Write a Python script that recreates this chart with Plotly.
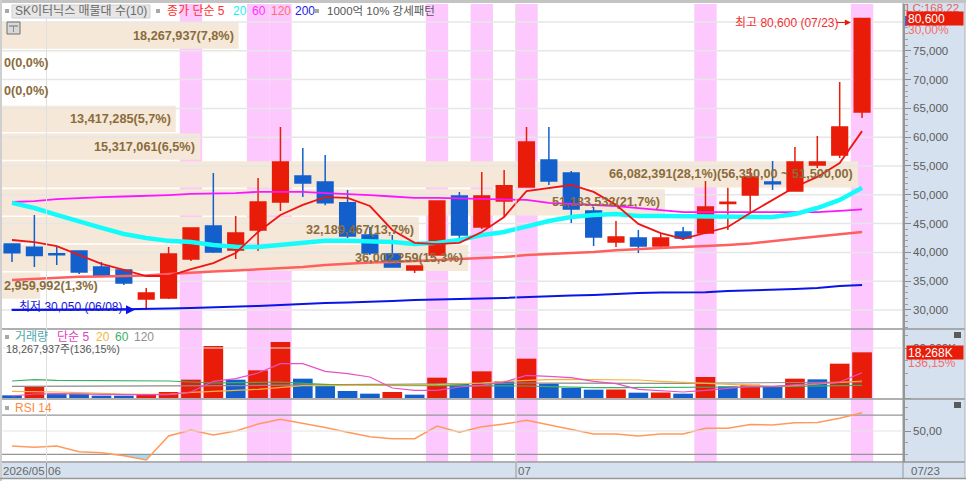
import plotly.graph_objects as go

W, H = 966, 481
FONT = "Liberation Sans, Noto Sans CJK KR, sans-serif"

RED = "#e81c08"
BLUE = "#1360cc"
PINK = "#fdc8fd"
PEACH = "#f5e8d8"
GRID = "#e6e6e6"
SEP = "#969696"
PANEL = "#d5e1ef"
TEXT = "#5c5c5c"

# daily candles, 2026/05 ~ 07/23
opens = [41450, 40900, 39750, 40250, 37450, 36950, 31900, 32100, 38850, 44600, 40400, 43900, 48750,
         53250, 52200, 48600, 43000, 39700, 36950, 39550, 49800, 44400, 48900, 51350, 56050, 53800,
         47200, 41800, 42500, 41100, 43550, 43350, 48500, 49950, 52200, 50650, 55150, 56900, 64350]
highs = [41450, 46500, 41100, 40250, 38350, 36950, 33800, 40950, 44250, 53800, 46300, 52900, 61750,
         58100, 56900, 50850, 44400, 43000, 37650, 48900, 50500, 53950, 54300, 61750, 61750, 54150,
         47900, 45450, 43900, 43350, 44400, 52400, 51200, 54650, 55850, 58300, 60200, 69600, 80600]
lows = [38350, 37450, 37800, 36250, 35750, 34350, 30050, 31900, 38500, 39900, 38850, 40250, 47200,
        49600, 48200, 42500, 39550, 37450, 36400, 39550, 41650, 44050, 46150, 51200, 51700, 45100,
        41100, 40950, 39900, 40950, 42150, 43200, 43900, 47000, 50850, 50650, 54650, 56400, 63350]
closes = [39950, 39450, 39600, 36600, 35900, 34700, 32950, 39700, 44250, 40050, 43350, 48750, 55700,
          52050, 48600, 42850, 39900, 37450, 37650, 48900, 43000, 49800, 51550, 59150, 52400, 47550,
          42650, 42650, 41100, 42500, 42500, 47900, 48700, 53100, 51900, 55700, 55700, 61750, 80600]

ma5 = [42150, 41800, 41100, 39550, 38000, 36950, 35900, 35900, 37100, 38150, 39900, 43550, 46500,
       48250, 49600, 49450, 48050, 43900, 41650, 41450, 41650, 43550, 46150, 50650, 51200, 51700,
       50500, 48250, 44950, 43350, 42350, 43350, 44400, 46850, 49100, 51350, 53100, 55500, 61050]
ma20 = [48600, 47700, 46500, 45300, 44250, 43200, 42500, 42000, 41800, 41300, 41000, 40950, 41300,
        41800, 42000, 42000, 41900, 41800, 41450, 41650, 42150, 43000, 43550, 44600, 45450, 46150,
        46500, 46650, 46300, 46300, 46300, 46250, 46150, 46150, 46150, 46650, 47700, 49100, 51200]
ma60 = [48750, 48900, 49250, 49450, 49600, 49700, 49800, 49950, 50150, 50200, 50300, 50500, 50500,
        50500, 50300, 50150, 49950, 49700, 49450, 49450, 49350, 49250, 49200, 49100, 48600, 48400,
        48250, 48050, 47700, 47350, 47000, 47000, 47000, 47000, 47000, 47000, 47000, 47200, 47450]
ma120 = [35200, 35400, 35550, 35750, 35800, 35900, 36000, 36250, 36500, 36700, 36850, 37050, 37200,
         37450, 37800, 38050, 38250, 38350, 38500, 38700, 38850, 39050, 39200, 39550, 39700, 39900,
         40050, 40350, 40600, 40750, 40950, 41100, 41300, 41550, 42000, 42350, 42750, 43100, 43550]
ma200 = [30000, 30000, 30000, 30000, 30100, 30150, 30150, 30250, 30350, 30450, 30500, 30700, 30850,
         31050, 31200, 31300, 31400, 31550, 31750, 31800, 31900, 32000, 32100, 32250, 32450, 32500,
         32600, 32800, 32950, 33050, 33100, 33100, 33300, 33400, 33450, 33650, 33800, 34150, 34350]

# volume in thousands of shares
volume = [1067, 4400, 1800, 1750, 950, 930, 1300, 2400, 7333, 20800, 7333, 11067, 22400,
          7733, 4800, 2800, 1733, 2400, 1333, 8133, 5733, 10667, 6667, 15733, 5733, 4000,
          3333, 3400, 2133, 2200, 1733, 8400, 4667, 5333, 4400, 7733, 7467, 13733, 18268]
vol_ma5 = [800, 1600, 1730, 1730, 1470, 1330, 1200, 1330, 2400, 6670, 7730, 10000, 13730,
           13730, 10670, 9730, 8400, 4000, 3070, 3070, 4400, 5070, 6400, 9070, 8670, 8130,
           6670, 5730, 3470, 2800, 2400, 3070, 3730, 4670, 4670, 5330, 5730, 6400, 10130]
vol_ma20 = [2670, 2670, 2400, 2130, 1730, 1600, 1470, 1470, 2270, 2800, 3070, 3470, 4270,
            4930, 4930, 4930, 4930, 5070, 5200, 5330, 5600, 6000, 6670, 7070, 7330, 7470,
            7470, 7470, 7200, 6670, 6270, 5870, 5330, 4800, 4670, 5070, 5600, 6000, 6800]
vol_ma60 = [6800, 7330, 7070, 7070, 6930, 6930, 6800, 6800, 6400, 6000, 6130, 6400, 6400,
            5870, 5470, 5070, 5070, 5070, 5070, 5070, 5070, 5070, 4930, 4800, 4530, 4270,
            4130, 4130, 4130, 4130, 4130, 4270, 4400, 4400, 4530, 4670, 4800, 4930, 5070]
vol_ma120 = [4670, 4670, 4670, 4670, 4670, 4670, 4670, 4670, 4730, 4800, 4930, 5070, 5200,
             5330, 5330, 5330, 5470, 5470, 5600, 5730, 5870, 5870, 6000, 6000, 5930, 5870,
             5870, 5800, 5730, 5730, 5870, 5930, 6000, 6000, 6130, 6130, 6130, 6270, 6400]

rsi = [37.1, 36.0, 37.1, 32.3, 31.4, 28.8, 25.1, 45.7, 50.9, 46.6, 50.0, 56.0, 60.0,
       56.6, 53.1, 48.9, 45.1, 43.4, 43.4, 54.3, 48.9, 53.7, 56.0, 59.2, 55.1, 50.9,
       47.4, 47.4, 45.7, 47.4, 47.4, 52.3, 52.3, 55.7, 55.1, 57.2, 57.4, 60.9, 65.7]
rsi_low, rsi_high = 30, 63.7

# volume by price, 10 buckets from the top
vp_mid = [77650, 72825, 68000, 63175, 58350, 53525, 48700, 43875, 39050, 34225]
vp_shares = [18267937, 0, 0, 13417285, 15317061, 66082391, 51183532, 32189467, 36002259, 2959992]
vp_labels = ["18,267,937(7,8%)", "0(0,0%)", "0(0,0%)", "13,417,285(5,7%)", "15,317,061(6,5%)",
             "66,082,391(28,1%)(56,350,00 ~ 51,500,00)", "51,183,532(21,7%)", "32,189,467(13,7%)",
             "36,002,259(15,3%)", "2,959,992(1,3%)"]

highlight_days = [8, 11, 12, 19, 21, 23, 31, 38]
price_ticks = list(range(30000, 80001, 5000))
days = list(range(len(closes)))


def px(x):
    return x / W


def py(y):
    return 1 - y / H


def note(x, y, text, color=TEXT, size=11, anchor="left", **kw):
    fig.add_annotation(x=px(x), y=py(y), xref="paper", yref="paper", text=text, showarrow=False, xshift=-2,
                       xanchor=anchor, yanchor="middle", font=dict(family=FONT, size=size, color=color), **kw)


fig = go.Figure()

# volume by price sits on the base axis so it stays under the candles
fig.add_trace(go.Bar(y=vp_mid, x=vp_shares, orientation="h", width=4560, marker=dict(color=PEACH, line_width=0),
                     xaxis="x", yaxis="y", showlegend=False))
grid_x, grid_y = [], []
for p in price_ticks:
    grid_x += [0, 70000000, None]
    grid_y += [p, p, None]
fig.add_trace(go.Scatter(x=grid_x, y=grid_y, mode="lines", line=dict(color=GRID, width=1.5), xaxis="x", yaxis="y",
                         showlegend=False))

for series, color, width in [(ma200, "#0a14e6", 2), (ma120, "#ff5f5f", 2.5), (ma60, "#ff14ff", 1.8),
                             (ma20, "#14fbfb", 4.5)]:
    fig.add_trace(go.Scatter(x=days, y=series, mode="lines", line=dict(color=color, width=width), xaxis="x2",
                             yaxis="y", showlegend=False))

fig.add_trace(go.Candlestick(x=days, open=opens, high=highs, low=lows, close=closes, xaxis="x2", yaxis="y",
                             whiskerwidth=0, showlegend=False,
                             increasing=dict(line=dict(color=RED, width=1.5), fillcolor=RED),
                             decreasing=dict(line=dict(color=BLUE, width=1.5), fillcolor=BLUE)))
fig.add_trace(go.Scatter(x=days, y=ma5, mode="lines", line=dict(color="#f01414", width=1.8), xaxis="x2", yaxis="y",
                         showlegend=False))

# volume panel, bar colour follows volume against the day before
vol_colors = [BLUE] + [RED if volume[i] >= volume[i - 1] else BLUE for i in range(1, len(volume))]
fig.add_trace(go.Bar(x=days, y=volume, width=0.88, marker=dict(color=vol_colors, line_width=0), xaxis="x3", yaxis="y2",
                     showlegend=False))
for series, color in [(vol_ma120, "#8c8c8c"), (vol_ma60, "#3cb060"), (vol_ma20, "#f5b43c"), (vol_ma5, "#e650c8")]:
    fig.add_trace(go.Scatter(x=days, y=series, mode="lines", line=dict(color=color, width=1.2), xaxis="x3", yaxis="y2",
                             showlegend=False))

# rsi panel, shaded where it drops under the lower line
under_x, under_y = [], []
for i in days:
    if i and (rsi[i - 1] - rsi_low) * (rsi[i] - rsi_low) < 0:
        under_x.append(i - 1 + (rsi_low - rsi[i - 1]) / (rsi[i] - rsi[i - 1]))
        under_y.append(rsi_low)
    if rsi[i] < rsi_low:
        under_x.append(i)
        under_y.append(rsi[i])
fig.add_trace(go.Scatter(x=under_x, y=under_y, mode="lines", fill="toself", fillcolor="#a4dcf0", line_width=0,
                         xaxis="x4", yaxis="y3", showlegend=False))
for level in (rsi_low, rsi_high):
    fig.add_trace(go.Scatter(x=[-1, 41], y=[level, level], mode="lines", line=dict(color=SEP, width=1.3), xaxis="x4",
                             yaxis="y3", showlegend=False))
fig.add_trace(go.Scatter(x=days, y=rsi, mode="lines", line=dict(color="#ff9a5c", width=1.5), xaxis="x4", yaxis="y3",
                         showlegend=False))

domain_x = [px(2), px(903)]
index_range = [-0.447, 39.83]
hidden = dict(domain=domain_x, range=index_range, showticklabels=False, showgrid=False, zeroline=False, ticks="")


def right_axis(top, bottom, rng, **kw):
    ax = dict(domain=[py(bottom), py(top)], range=rng, side="right", showgrid=False, zeroline=False, showline=True,
              linecolor=SEP, linewidth=1.5, ticks="outside", ticklen=6, tickcolor="#8c8c8c",
              tickfont=dict(family=FONT, size=11.5, color=TEXT))
    ax.update(kw)
    return ax


fig.update_layout(
    width=W, height=H, margin=dict(l=0, r=0, t=0, b=0), paper_bgcolor="white", plot_bgcolor="rgba(0,0,0,0)",
    barmode="overlay", boxgap=0, showlegend=False, autosize=False,
    xaxis=dict(domain=domain_x, range=[0, 69560000], visible=False, anchor="y"),
    xaxis2=dict(hidden, overlaying="x", anchor="y", rangeslider=dict(visible=False)),
    xaxis3=dict(hidden, anchor="y2"),
    xaxis4=dict(hidden, anchor="y3"),
    yaxis=right_axis(4, 329, [26700, 83120], anchor="x", tickvals=price_ticks[:-1], tickformat=",",
                     minor=dict(dtick=1000, ticks="outside", ticklen=3, tickcolor="#a0a0a0")),
    yaxis2=right_axis(329, 399, [-400, 27600], anchor="x3", tickvals=[0, 20000], ticktext=["", "20,000K"],
                      minor=dict(dtick=5000, ticks="outside", ticklen=3, tickcolor="#a0a0a0")),
    yaxis3=right_axis(399, 462, [23.4, 77.5], anchor="x4", tickvals=[50], ticktext=["50,00"],
                      minor=dict(dtick=10, ticks="outside", ticklen=3, tickcolor="#a0a0a0")),
)

shapes = []
for d in highlight_days:
    shapes.append(dict(type="rect", xref="x2", yref="paper", x0=d - 0.5, x1=d + 0.5, y0=py(462), y1=py(4),
                       fillcolor=PINK, line_width=0, layer="below"))


def rect(x0, y0, x1, y1, fill, line=None, layer="below"):
    shapes.append(dict(type="rect", xref="paper", yref="paper", x0=px(x0), x1=px(x1), y0=py(y1), y1=py(y0),
                       fillcolor=fill, line=dict(color=line or fill, width=1 if line else 0), layer=layer))


def hline(x0, x1, y, color=SEP, width=1.5):
    shapes.append(dict(type="line", xref="paper", yref="paper", x0=px(x0), x1=px(x1), y0=py(y), y1=py(y),
                       line=dict(color=color, width=width), layer="above"))


def vline(x, y0, y1, color=SEP, width=1):
    shapes.append(dict(type="line", xref="paper", yref="paper", x0=px(x), x1=px(x), y0=py(y0), y1=py(y1),
                       line=dict(color=color, width=width), layer="above"))


rect(903, 3, 965, 478, PANEL)
rect(2, 463, 903, 478, PANEL)
rect(0, 0, 966, 3, "#c4c4c4", layer="above")
rect(0, 0, 2, 481, "#cfcfcf", layer="above")
hline(2, 965, 329)
hline(2, 965, 399)
hline(2, 965, 462)
hline(0, 966, 478.5)
vline(903, 3, 478)
vline(965, 3, 478, "#b0b0b0")
# month separators
vline(46.5, 4, 462, "#e0e0e0")
vline(516, 4, 462, "#e0e0e0")
vline(46.5, 463, 478)
vline(516, 463, 478)
# vol / rsi gridlines
hline(3, 903, 348, "#e4e4e4", 1.2)
hline(3, 903, 431, "#e4e4e4", 1.2)
# small legend markers and icons
rect(12, 5, 150, 18, "#e6e6e6", "#d0d0d0", layer="above")
for x, y in [(7, 11), (158, 11), (317, 11), (7, 337), (7, 408)]:
    rect(x - 2, y - 2, x + 2, y + 2, "#a8a8a8", layer="above")
rect(7, 22, 20, 34, "#d8d8d8", "#6e6e6e", layer="above")
hline(9, 18, 26, "#6e6e6e", 1)
vline(13.5, 26, 32, "#8c8c8c", 1)
rect(954, 332, 961, 338, "#5a5a5a", layer="above")
rect(954, 402, 961, 408, "#5a5a5a", layer="above")
rect(905, 16, 907, 26, "#3c64dc", layer="above")
fig.update_layout(shapes=shapes)

# volume by price labels
for mid, shares, label in zip(vp_mid, vp_shares, vp_labels):
    if shares > 5000000:
        fig.add_annotation(x=shares, y=mid, xref="x", yref="y", text=label, showarrow=False, xanchor="right", xshift=-3,
                           font=dict(family=FONT, size=12.7, color="#8a6c3c", weight="bold"))
    else:
        fig.add_annotation(x=0, y=mid, xref="x", yref="y", text=label, showarrow=False, xanchor="left",
                           font=dict(family=FONT, size=12.7, color="#8a6c3c", weight="bold"))

# high / low callouts
low_i = lows.index(min(lows))
high_i = highs.index(max(highs))
fig.add_annotation(x=low_i - 0.5, y=min(lows), xref="x2", yref="y", ax=-125, ay=0, text="", showarrow=True,
                   arrowhead=2, arrowsize=1, arrowwidth=1.8, arrowcolor="#0a14e6")
fig.add_annotation(x=high_i - 0.5, y=max(highs), xref="x2", yref="y", ax=-16, ay=0, yshift=-4, text="", showarrow=True,
                   arrowhead=2, arrowsize=1, arrowwidth=1.2, arrowcolor=RED)
note(19, 307, "최저 30,050 (06/08)", "#1414e0", 12)
note(735, 23, "최고 80,600 (07/23)", "#f03030", 12)

# chart legends
note(15, 11, "SK이터닉스 매물대 수(10)", "#6a6a6a", 12)
note(167, 11, "종가 단순 5", "#ff3030", 12)
note(233, 11, "20", "#18f0f0", 12)
note(252, 11, "60", "#ff30ff", 12)
note(271, 11, "120", "#ff7070", 12)
note(295, 11, "200", "#2020e8", 12)
note(327, 11, "1000억 10% 강세패턴", "#555555", 11.5)
note(15, 337, "거래량", "#4aa8a8", 12)
note(57, 337, "단순 5", "#e040c0", 12)
note(96, 337, "20", "#f5b43c", 12)
note(115, 337, "60", "#3cb060", 12)
note(134, 337, "120", "#909090", 12)
note(6, 349, "18,267,937주(136,15%)", "#555555", 10.8)
note(15, 408, "RSI 14", "#ff8a40", 12)
note(3, 470.5, "2026/05", "#666666", 11.5)
note(48, 470.5, "06", "#666666", 11.5)
note(518, 470.5, "07", "#666666", 11.5)
note(911, 470.5, "07/23", "#666666", 11.5)

# right hand scale readouts
note(906, 8, "LC:168,22", "#e66060", 11.5)
note(908, 30, "30,00%", "#f07070", 12)
note(908, 18.5, "80,600", "white", 12, bgcolor=RED, width=54, height=11, align="left")
note(908, 363, "136,15%", "#f07070", 12)
note(908, 352, "18,268K", "white", 12, bgcolor=RED, width=54, height=11, align="left")

# drop the page's default margin so the figure fills the window
fig.write_html("out.html", config=dict(displayModeBar=False),
               post_script="document.body.style.margin='0';document.body.style.overflow='hidden';")
